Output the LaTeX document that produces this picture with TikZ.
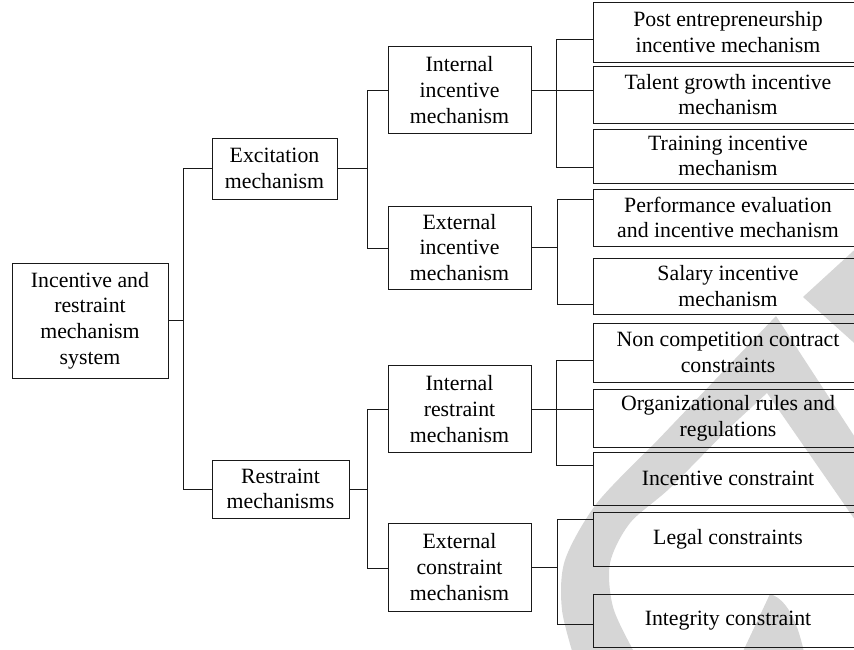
\documentclass[tikz,border=0pt]{standalone}
\usepackage{fontspec}
\setmainfont{Liberation Serif}
\begin{document}
\begin{tikzpicture}[x=1pt, y=-1pt,
  wm/.style={fill=black!16},
  box/.style={draw=black!90, line width=0.9pt, align=center, inner sep=0pt,
    font=\fontsize{21.8}{25.7}\selectfont},
  midbox/.style={box, minimum width=143pt},
  leaf/.style={box, minimum width=270pt},
  link/.style={draw=black!90, line width=0.9pt}]
\useasboundingbox (0,0) rectangle (854,650);

% background logo mark
\fill[wm] (803,297) -- (862,243) -- (862,350) -- cycle;
\fill[wm] (776,316) -- (862,448) -- (862,530) -- (767,393)
  -- plot[smooth] coordinates {(727,430) (670,488) (630,523) (610,563) (613,607) (633,650) (642,664)}
  -- plot[smooth] coordinates {(576,664) (562,610) (565,560) (597,503) (653,445)}
  -- cycle;
\fill[wm] (738,662) -- (770,594) .. controls (790,600) and (800,630) .. (806,662) -- cycle;

% tree nodes
\node[box, minimum width=156pt, minimum height=115pt] (root) at (90,320.5)
  {Incentive and\\restraint\\mechanism\\system};
\node[box, minimum width=125pt, minimum height=61pt] (exc) at (274.5,168.5)
  {Excitation\\mechanism};
\node[box, minimum width=137pt, minimum height=58pt] (res) at (280.5,489)
  {Restraint\\mechanisms};

\node[midbox, minimum height=87pt] (iim) at (459.5,90)
  {Internal\\incentive\\mechanism};
\node[midbox, minimum height=83pt] (eim) at (459.5,247.5)
  {External\\incentive\\mechanism};
\node[midbox, minimum height=87pt] (irm) at (459.5,409)
  {Internal\\restraint\\mechanism};
\node[midbox, minimum height=88pt] (ecm) at (459.5,567)
  {External\\constraint\\mechanism};

\node[leaf, minimum height=60pt] (l1) at (728,32)
  {Post entrepreneurship\\incentive mechanism};
\node[leaf, minimum height=57pt] (l2) at (728,94.5)
  {Talent growth incentive\\mechanism};
\node[leaf, minimum height=54pt] (l3) at (728,156)
  {Training incentive\\mechanism};
\node[leaf, minimum height=57pt] (l4) at (728,217.5)
  {Performance evaluation\\and incentive mechanism};
\node[leaf, minimum height=56pt] (l5) at (728,286)
  {Salary incentive\\mechanism};
\node[leaf, minimum height=59pt] (l6) at (728,352.5)
  {Non competition contract\\constraints};
\node[leaf, minimum height=58pt] (l7) at (728,418)
  {Organizational rules and\\regulations};
\node[leaf, minimum height=53pt] (l8) at (728,478.5)
  {Incentive constraint};
\node[leaf, minimum height=54pt] (l9) at (728,539)
  {Legal constraints};
\node[leaf, minimum height=53pt] (l10) at (728,620.5)
  {Integrity constraint};

% first level
\draw[link] (root.east) -- ++(14.5,0) coordinate (b0);
\draw[link] (exc.west) -| (b0) |- (res.west);
% second level
\draw[link] (exc.east) -- ++(30,0) coordinate (b1);
\draw[link] (iim.west) -| (b1) |- ([yshift=-0.5pt]eim.west);
\draw[link] (res.east) -- ++(18,0) coordinate (b2);
\draw[link] (irm.west) -| (b2) |- ([yshift=-1pt]ecm.west);
% third level
\draw[link] (iim.east) -- (iim.east -| l2.west);
\draw[link] ([yshift=-7pt]l1.west) -- ++(-36,0) -- ([xshift=-36pt,yshift=-11pt]l3.west) -- ([yshift=-11pt]l3.west);
\draw[link] (eim.east) -- ++(26,0) coordinate (b4);
\draw[link] ([yshift=18.5pt]l4.west) -| (b4) |- ([yshift=-18pt]l5.west);
\draw[link] (irm.east) -- (irm.east -| l7.west);
\draw[link] ([yshift=-7.5pt]l6.west) -- ++(-36,0) -- ([xshift=-36pt,yshift=13.5pt]l8.west) -- ([yshift=13.5pt]l8.west);
\draw[link] (ecm.east) -- ++(26,0) coordinate (b6);
\draw[link] ([yshift=20pt]l9.west) -| (b6) |- ([yshift=-3.5pt]l10.west);
\end{tikzpicture}
\end{document}
